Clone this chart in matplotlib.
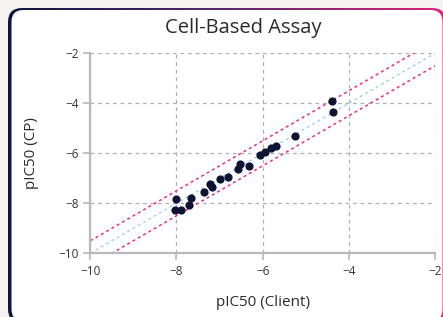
import numpy as np
import matplotlib
matplotlib.use('Agg')
import matplotlib.pyplot as plt
from matplotlib.patches import FancyBboxPatch

# data
client = [-8.00, -8.04, -7.90, -7.66, -7.71, -7.36, -7.22, -7.18, -6.99, -6.80,
          -6.57, -6.53, -6.32, -6.05, -5.94, -5.80, -5.68, -5.25, -4.38, -4.37]
cp = [-7.82, -8.27, -8.27, -7.79, -8.07, -7.56, -7.23, -7.35, -7.02, -6.96,
      -6.62, -6.43, -6.51, -6.06, -5.94, -5.79, -5.72, -5.32, -3.92, -4.36]
band = 0.5
ticks = [-10, -8, -6, -4, -2]

W, H = 443, 317
fig = plt.figure(figsize=(W / 100, H / 100), dpi=100)
fig.patch.set_facecolor('#f4f3f1')
plt.rcParams['font.family'] = ['Open Sans', 'DejaVu Sans']

# card with gradient border (pixel coords, y up)
bg = fig.add_axes([0, 0, 1, 1])
bg.set_xlim(0, W); bg.set_ylim(0, H); bg.axis('off')
outer = FancyBboxPatch((8, -6), 438, 315, boxstyle='round,pad=0,rounding_size=14',
                       facecolor='none', edgecolor='none')
bg.add_patch(outer)
grad = np.linspace(0, 1, 256).reshape(1, -1)
cmap = matplotlib.colors.LinearSegmentedColormap.from_list('b', ['#0e1640', '#5a2a6a', '#e0207a'])
im = bg.imshow(grad, extent=[8, 446, -6, 309], aspect='auto', cmap=cmap, zorder=1)
im.set_clip_path(outer)
inner = FancyBboxPatch((11.5, -4), 431, 311, boxstyle='round,pad=0,rounding_size=12',
                       facecolor='white', edgecolor='none', zorder=2)
bg.add_patch(inner)

fig.text(243.5 / W, 1 - 28 / H, 'Cell-Based Assay', ha='center', va='center',
         fontsize=14.5, color='#2b2b2b')

ax = fig.add_axes([90.3 / W, 1 - 253.3 / H, (435 - 90.3) / W, (253.3 - 53.3) / H])
ax.set_facecolor('none')
xs = np.array([-10, -2])
ax.plot(xs, xs, ls=(0, (2, 2)), color='#a9d3f0', lw=1.1, zorder=2)
ax.plot(xs, xs + band, ls=(0, (2, 2)), color='#e8308a', lw=1.1, zorder=2)
ax.plot(xs, xs - band, ls=(0, (2, 2)), color='#e8308a', lw=1.1, zorder=2)
ax.scatter(client, cp, s=24, color='#0d1333', zorder=3)

ax.set_xlim(-10, -2)
ax.set_ylim(-10, -2)
ax.set_xticks(ticks)
ax.set_yticks(ticks)
ax.grid(True, ls=(0, (3, 3)), color='#b0b0b0', lw=0.9)
for s in ['top', 'right']:
    ax.spines[s].set_visible(False)
for s in ['left', 'bottom']:
    ax.spines[s].set_color('#b8b8b8')
    ax.spines[s].set_linewidth(1.6)
ax.tick_params(colors='#b8b8b8', labelcolor='#333333', labelsize=8.5, length=5, width=1.2)
ax.set_xlabel('pIC50 (Client)', fontsize=11, color='#2b2b2b', labelpad=12)
ax.set_ylabel('pIC50 (CP)', fontsize=11, color='#2b2b2b', labelpad=14)

fig.savefig('out.png', dpi=100, facecolor=fig.get_facecolor())
